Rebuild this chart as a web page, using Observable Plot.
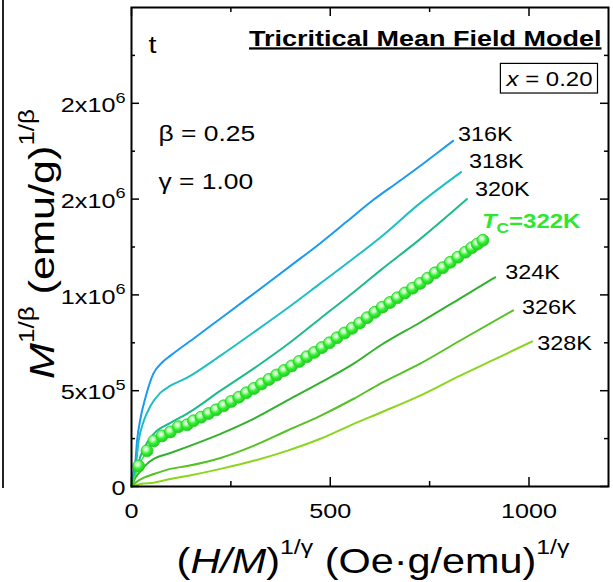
<!DOCTYPE html>
<html>
<head>
<meta charset="utf-8">
<script src="https://cdn.jsdelivr.net/npm/d3@7"></script>
<script src="https://cdn.jsdelivr.net/npm/@observablehq/plot@0.6"></script>
<style>
  html, body { margin: 0; padding: 0; background: #fff; overflow: hidden; }
  #wrap { position: relative; width: 613px; height: 582px; }
  #edge { position: absolute; left: 2px; top: 0; height: 488px; border-left: 2px solid #222; }
</style>
</head>
<body>
<div id="wrap"><div id="edge"></div></div>
<script>
// Modified Arrott plot isotherms, tricritical mean-field exponents.
// x: (H/M)^(1/γ) in (Oe·g/emu)^(1/γ);  y: M^(1/β) in units of 10^3 (emu/g)^(1/β)
const temperatures = ["316K", "318K", "320K", "322K", "324K", "326K", "328K"];

const hm316 = [0, 5, 10, 14, 23, 35, 55, 77, 98, 160, 224, 290, 349, 410, 475, 540, 608, 670, 726, 770, 809];
const mb316 = [0, 80, 134, 238, 359, 463, 589, 647, 683, 778, 877, 979, 1071, 1167, 1270, 1380, 1495, 1588, 1673, 1742, 1804];

const hm318 = [0, 5, 10, 18, 31, 48, 73, 98, 140, 224, 307, 391, 475, 558, 626, 726, 829];
const mb318 = [0, 55, 97, 238, 343, 421, 490, 526, 568, 683, 804, 929, 1060, 1190, 1300, 1479, 1641];

const hm320 = [0, 14, 23, 39, 56, 98, 140, 224, 307, 392, 475, 558, 626, 726, 844];
const mb320 = [0, 97, 160, 228, 275, 332, 380, 500, 615, 741, 877, 1013, 1128, 1291, 1500];

// critical isotherm (T_C), one entry per measured field
const hm322 = [0, 18, 39, 56, 77, 98, 118, 140, 156, 175, 194, 213, 232, 251, 270, 289, 308, 327, 346, 365,
  384, 403, 422, 441, 460, 479, 498, 517, 536, 555, 574, 593, 612, 631, 650, 669, 688, 707, 726, 745,
  764, 783, 802, 821, 840, 856, 870, 884];
const mb322 = [0, 107, 186, 238, 264, 285, 312, 322, 343, 362, 381, 400, 421, 444, 466, 489, 512, 535, 559, 582,
  605, 629, 653, 677, 700, 725, 750, 776, 801, 826, 853, 881, 909, 936, 960, 985, 1010, 1035, 1060, 1087,
  1115, 1142, 1170, 1197, 1223, 1246, 1265, 1285];

const hm324 = [0, 8, 23, 39, 56, 98, 140, 224, 307, 391, 475, 559, 626, 726, 827, 915];
const mb324 = [0, 39, 81, 118, 144, 175, 207, 275, 353, 448, 542, 641, 736, 856, 982, 1092];

const hm326 = [0, 13, 31, 56, 98, 140, 224, 307, 391, 475, 559, 626, 726, 827, 960];
const mb326 = [0, 24, 46, 65, 92, 107, 149, 212, 291, 369, 458, 537, 641, 762, 919];

const hm328 = [0, 23, 56, 98, 140, 224, 307, 391, 475, 559, 626, 726, 827, 920, 1008];
const mb328 = [0, 13, 20, 39, 55, 92, 134, 186, 249, 327, 385, 474, 579, 670, 757];

const curveLabels = ["316K", "318K", "320K", "[i:T][sub:C]=322K", "324K", "326K", "328K"];

// axis ticks
const xMajor = [0, 500, 1000];
const xMinor = [250, 750];
const yMajor = [0, 5e5, 1e6, 1.5e6, 2e6];
const yMinor = [2.5e5, 7.5e5, 1.25e6, 1.75e6, 2.25e6];
const yTickLabels = ["0", "5x10[sup:5]", "1x10[sup:6]", "2x10[sup:6]", "2x10[sup:6]"];

// ---------------------------------------------------------------------------
const seriesX = [hm316, hm318, hm320, hm322, hm324, hm326, hm328];
const seriesY = [mb316, mb318, mb320, mb322, mb324, mb326, mb328];

const rows = temperatures.flatMap((T, k) =>
  seriesX[k].map((h, i) => ({T, h, m: seriesY[k][i] * 1e3})));
const tcRows = rows.filter(d => d.T === "322K");
const ends = temperatures.map((T, k) => ({
  T, h: seriesX[k][seriesX[k].length - 1], m: seriesY[k][seriesY[k].length - 1] * 1e3, label: curveLabels[k]
}));

// styling
const seriesColors = ["#1a9af0", "#1dbfc2", "#1dba8c", "#33ee33", "#30b22c", "#55c223", "#8ad61c"];
const tcColor = "#2ee82e";
const labelOffsets = [[5, 0], [8, -4], [8, -3], [-1, -12], [10, 2], [9, 4], [5, 9]];
const W = 613, H = 582, mL = 131, mR = 5, mT = 7, mB = 96;
const fw = W - mL - mR, fh = H - mT - mB;
const font = "'Liberation Sans', Arial, Helvetica, sans-serif";

const chart = Plot.plot({
  width: W, height: H,
  marginLeft: mL, marginRight: mR, marginTop: mT, marginBottom: mB,
  style: {fontFamily: font, fontSize: "20px", background: "#fff", overflow: "visible", color: "#000"},
  x: {domain: [0, 1200]},
  y: {domain: [0, 2.5e6]},
  color: {domain: temperatures, range: seriesColors},
  marks: [
    // isotherms
    Plot.line(rows.filter(d => d.T !== "322K"), {x: "h", y: "m", z: "T", stroke: "T", strokeWidth: 2, curve: "monotone-x"}),
    Plot.line(tcRows, {x: "h", y: "m", stroke: "T", strokeWidth: 1.5, curve: "monotone-x"}),
    Plot.dot(tcRows.filter(d => d.h > 0), {x: "h", y: "m", r: 6, fill: "url(#ball)", stroke: "#24d224", strokeWidth: 0.8}),
    ...ends.map((d, k) => Plot.text([d], {
      x: "h", y: "m", text: "label", textAnchor: "start", lineAnchor: "bottom",
      dx: labelOffsets[k][0], dy: labelOffsets[k][1],
      fontSize: k === 3 ? 20 : 19.5, fontWeight: k === 3 ? "bold" : "normal",
      fill: k === 3 ? tcColor : "#000"
    })),
    // inward ticks on all four sides
    Plot.tickX(xMajor, {x: d => d, insetTop: fh - 9, strokeWidth: 1.5}),
    Plot.tickX(xMinor, {x: d => d, insetTop: fh - 5, strokeWidth: 1.5}),
    Plot.tickX(xMajor, {x: d => d, insetBottom: fh - 9, strokeWidth: 1.5}),
    Plot.tickX(xMinor, {x: d => d, insetBottom: fh - 5, strokeWidth: 1.5}),
    Plot.tickY(yMajor, {y: d => d, insetRight: fw - 8, strokeWidth: 1.5}),
    Plot.tickY(yMinor, {y: d => d, insetRight: fw - 4, strokeWidth: 1.5}),
    Plot.tickY(yMajor, {y: d => d, insetLeft: fw - 8, strokeWidth: 1.5}),
    Plot.tickY(yMinor, {y: d => d, insetLeft: fw - 4, strokeWidth: 1.5}),
    Plot.frame({stroke: "#000", strokeWidth: 2}),
    // tick labels
    Plot.axisX(xMajor, {label: null, tickSize: 0, tickPadding: 17, fontSize: 21, tickFormat: d => String(d)}),
    Plot.axisY(yMajor, {label: null, tickSize: 0, tickPadding: 6, fontSize: 21, dy: 2,
      tickFormat: d => yTickLabels[yMajor.indexOf(d)]}),
    // axis titles
    Plot.text(["([i:H/M])[sup:1/γ] (Oe·g/emu)[sup:1/γ]"], {frameAnchor: "bottom", textAnchor: "middle", dx: 3, dy: 86, lineAnchor: "bottom", fontSize: 34.5}),
    Plot.text(["[i:M][sup:1/β] (emu/g)[sup:1/β]"], {frameAnchor: "left", textAnchor: "middle", dx: -78, dy: -3, rotate: -90, lineAnchor: "bottom", fontSize: 36}),
    // annotations
    Plot.text(["t"], {frameAnchor: "top-left", dx: 17, dy: 45, textAnchor: "start", lineAnchor: "bottom", fontSize: 24}),
    Plot.text(["β = 0.25"], {frameAnchor: "top-left", dx: 27, dy: 133, textAnchor: "start", lineAnchor: "bottom", fontSize: 22}),
    Plot.text(["γ = 1.00"], {frameAnchor: "top-left", dx: 27, dy: 181, textAnchor: "start", lineAnchor: "bottom", fontSize: 22}),
    Plot.text(["[u:Tricritical Mean Field Model]"], {frameAnchor: "top-right", dx: -7, dy: 38, textAnchor: "end", lineAnchor: "bottom", fontSize: 22.5, fontWeight: "bold"}),
    Plot.text(["[i:x] = 0.20"], {frameAnchor: "top-right", dx: -16, dy: 78, textAnchor: "end", lineAnchor: "bottom", fontSize: 20})
  ]
});

document.getElementById("wrap").appendChild(chart);

// glossy sphere fill for the T_C markers
const svg = d3.select(chart);
const grad = svg.insert("defs", ":first-child").append("radialGradient")
  .attr("id", "ball").attr("cx", "0.42").attr("cy", "0.38").attr("r", "0.62")
  .attr("fx", "0.4").attr("fy", "0.34");
grad.append("stop").attr("offset", "0%").attr("stop-color", "#ffffff");
grad.append("stop").attr("offset", "25%").attr("stop-color", "#c0ffb8");
grad.append("stop").attr("offset", "58%").attr("stop-color", "#36f036");
grad.append("stop").attr("offset", "100%").attr("stop-color", "#20c820");

// rich text: [i:..] italic, [sup:..] superscript, [sub:..] subscript, [u:..] underline
const NS = "http://www.w3.org/2000/svg";
chart.querySelectorAll("text").forEach(t => {
  const s = t.textContent;
  if (s.includes("[")) {
    const fs = parseFloat(getComputedStyle(t).fontSize);
    const big = fs > 25;
    t.textContent = "";
    const re = /\[(i|sub|sup|u):([^\]]*)\]/g;
    let last = 0, shift = 0, m;
    const add = (str, kind) => {
      if (!str) return;
      const sp = document.createElementNS(NS, "tspan");
      let target = 0;
      if (kind === "sup") { sp.setAttribute("font-size", fs * (big ? 0.6 : 0.72)); target = -fs * (big ? 0.55 : 0.45); }
      else if (kind === "sub") { sp.setAttribute("font-size", fs * 0.72); target = fs * 0.22; }
      else if (kind === "i") sp.setAttribute("font-style", "italic");
      else if (kind === "u") sp.setAttribute("style", "text-decoration: underline");
      if (target !== shift) { sp.setAttribute("dy", target - shift); shift = target; }
      sp.textContent = str;
      t.appendChild(sp);
    };
    while ((m = re.exec(s))) { add(s.slice(last, m.index), null); add(m[2], m[1]); last = re.lastIndex; }
    add(s.slice(last), null);
  }
  // the lettering is set wide
  t.setAttribute("transform", (t.getAttribute("transform") || "") + " scale(1.2,1)");
});

// box around the composition label
const svgRect = chart.getBoundingClientRect();
chart.querySelectorAll("text").forEach(t => {
  if (t.textContent.trim() === "x = 0.20") {
    const b = t.getBoundingClientRect();
    svg.append("rect")
      .attr("x", b.left - svgRect.left - 5).attr("y", b.top - svgRect.top - 4)
      .attr("width", b.width + 10).attr("height", b.height + 7)
      .attr("fill", "none").attr("stroke", "#000").attr("stroke-width", 1.2);
  }
});
</script>
</body>
</html>
